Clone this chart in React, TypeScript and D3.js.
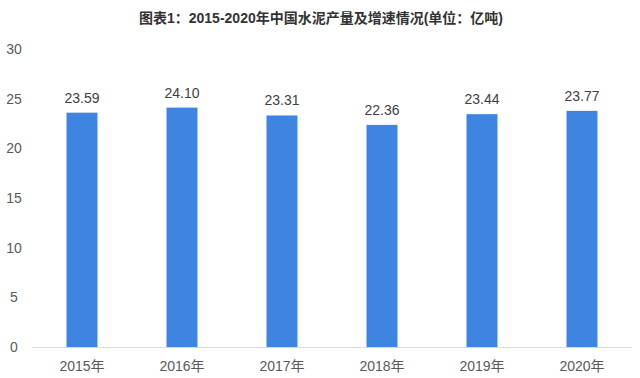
import React from "react";
import * as d3 from "d3";

const categories = ["2015年", "2016年", "2017年", "2018年", "2019年", "2020年"];
const values = [23.59, 24.1, 23.31, 22.36, 23.44, 23.77];
const yTicks = [0, 5, 10, 15, 20, 25, 30];
const title = "图表1：2015-2020年中国水泥产量及增速情况(单位：亿吨)";

export default function App() {
  const W = 640, H = 378;
  const left = 32, right = 632, top = 49, bottom = 347;
  const x = d3.scaleBand<string>().domain(categories).range([left, right]).paddingInner(0.69).paddingOuter(0.345);
  const y = d3.scaleLinear().domain([0, 30]).range([bottom, top]);
  const font = "'Liberation Sans', Arial, 'Noto Sans CJK SC', sans-serif";
  return (
    <svg width={W} height={H} style={{ position: "absolute", left: 0, top: 0, background: "#fff" }}>
      <rect width={W} height={H} fill="#fff" />
      <text x={321} y={23} textAnchor="middle" fontFamily={font} fontWeight="bold" fontSize={14} fill="#333">{title}</text>
      {yTicks.map((t) => (
        <text key={t} x={14} y={y(t)} dy="0.35em" textAnchor="middle" fontFamily={font} fontSize={14} fill="#595959">{t}</text>
      ))}
      <line x1={left} x2={right} y1={bottom + 0.5} y2={bottom + 0.5} stroke="#d9d9d9" strokeWidth={1} />
      {categories.map((c, i) => (
        <g key={c}>
          <rect x={x(c)} y={y(values[i])} width={x.bandwidth()} height={bottom - y(values[i])} fill="#3d85e0" />
          <text x={(x(c) as number) + x.bandwidth() / 2} y={y(values[i]) - 10} textAnchor="middle" fontFamily={font} fontSize={14} fill="#404040">{values[i].toFixed(2)}</text>
          <text x={(x(c) as number) + x.bandwidth() / 2} y={bottom + 19} dy="0.35em" textAnchor="middle" fontFamily={font} fontSize={14} fill="#595959">{c}</text>
        </g>
      ))}
    </svg>
  );
}
